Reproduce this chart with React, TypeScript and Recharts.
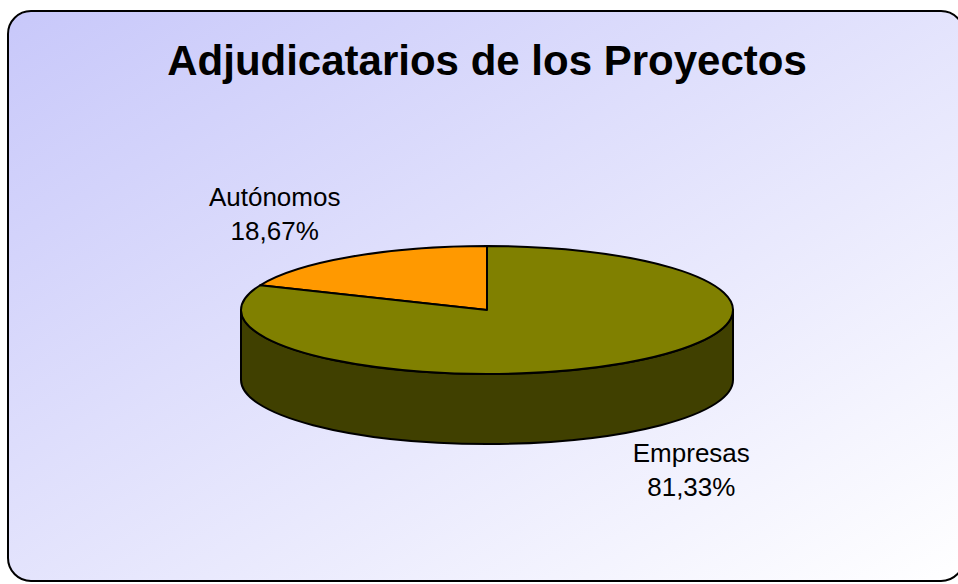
import React from "react";
import { PieChart, Pie, Cell } from "recharts";

// Slice data
const CATEGORIES = ["Autónomos", "Empresas"];
const SHARES = [18.67, 81.33];
const SHARE_LABELS = ["18,67%", "81,33%"];
const TOP_COLORS = ["#FF9900", "#808000"];
const SIDE_COLORS = ["#7F4C00", "#404000"];

const TITLE = "Adjudicatarios de los Proyectos";

// 3D look: flatten the disc and add a wall under the front half
const TILT = 0.26;
const DEPTH = 70;
const RAD = Math.PI / 180;
const FONT = "Arial, 'Liberation Sans', sans-serif";

const pieData = CATEGORIES.map((name, i) => ({
    name,
    value: SHARES[i],
    label: SHARE_LABELS[i],
}));

function Slice3D(props: any) {
    const { cx, cy, outerRadius, startAngle, endAngle, index } = props;
    const rx = outerRadius;
    const ry = outerRadius * TILT;
    const pt = (a: number, dy = 0) => `${cx + rx * Math.cos(a * RAD)},${cy - ry * Math.sin(a * RAD) + dy}`;

    const s = Math.min(startAngle, endAngle);
    const e = Math.max(startAngle, endAngle);

    // front wall pieces: the parts of the slice that lie in 180..360 (mod 360)
    const walls: string[] = [];
    for (let k = -1; k <= 1; k++) {
        const a1 = Math.max(s, 180 + 360 * k);
        const a2 = Math.min(e, 360 + 360 * k);
        if (a2 > a1) {
            walls.push(
                `M${pt(a1)} A${rx},${ry} 0 0 0 ${pt(a2)} L${pt(a2, DEPTH)} A${rx},${ry} 0 0 1 ${pt(a1, DEPTH)} Z`
            );
        }
    }

    const large = e - s > 180 ? 1 : 0;
    const top = `M${cx},${cy} L${pt(s)} A${rx},${ry} 0 ${large} 0 ${pt(e)} Z`;
    const i = index ?? CATEGORIES.indexOf(props.name ?? props.payload?.name);

    return (
        <g>
            {walls.map((d, k) => (
                <path key={k} d={d} fill={SIDE_COLORS[i]} stroke="#000" strokeWidth={2} strokeLinejoin="round" />
            ))}
            <path d={top} fill={TOP_COLORS[i]} stroke="#000" strokeWidth={2} strokeLinejoin="round" />
        </g>
    );
}

function renderLabel(props: any) {
    const { cx, cy, midAngle, outerRadius, payload, index } = props;
    const rx = outerRadius;
    const ry = outerRadius * TILT;
    const sin = Math.sin(midAngle * RAD);
    const x = cx - 4 + rx * 1.7 * Math.cos(midAngle * RAD) * 0.9;
    const y = cy - ry * 1.75 * sin + (sin < 0 ? DEPTH : 0);
    const name = payload?.name ?? CATEGORIES[index];
    const pct = payload?.label ?? SHARE_LABELS[index];
    return (
        <text x={x} y={y - 11} textAnchor="middle" fontFamily={FONT} fontSize={26} fill="#000">
            <tspan x={x}>{name}</tspan>
            <tspan x={x} dy={34}>{pct}</tspan>
        </text>
    );
}

export default function App() {
    return (
        <div style={{ position: "absolute", left: 0, top: 0, width: 958, height: 584, overflow: "hidden" }}>
            {/* chart area frame */}
            <div
                style={{
                    position: "absolute",
                    left: 7,
                    top: 10,
                    width: 958,
                    height: 572,
                    boxSizing: "border-box",
                    border: "2px solid #000",
                    borderRadius: 24,
                    background: "linear-gradient(to bottom right, #c8c8fa, #ffffff)",
                }}
            />
            <svg width={958} height={584} style={{ position: "absolute", left: 0, top: 0 }}>
                <text x={487} y={75} textAnchor="middle" fontFamily={FONT} fontWeight="bold" fontSize={42} fill="#000">
                    {TITLE}
                </text>
            </svg>
            <div style={{ position: "absolute", left: 0, top: 0 }}>
                <PieChart width={958} height={584} margin={{ top: 0, right: 0, bottom: 0, left: 0 }}>
                    <Pie
                        data={pieData}
                        dataKey="value"
                        nameKey="name"
                        cx={487}
                        cy={310}
                        outerRadius={246}
                        startAngle={90}
                        endAngle={450}
                        isAnimationActive={false}
                        shape={Slice3D}
                        activeShape={Slice3D}
                        label={renderLabel}
                        labelLine={false}
                    >
                        {pieData.map((d, i) => (
                            <Cell key={d.name} fill={TOP_COLORS[i]} />
                        ))}
                    </Pie>
                </PieChart>
            </div>
        </div>
    );
}
